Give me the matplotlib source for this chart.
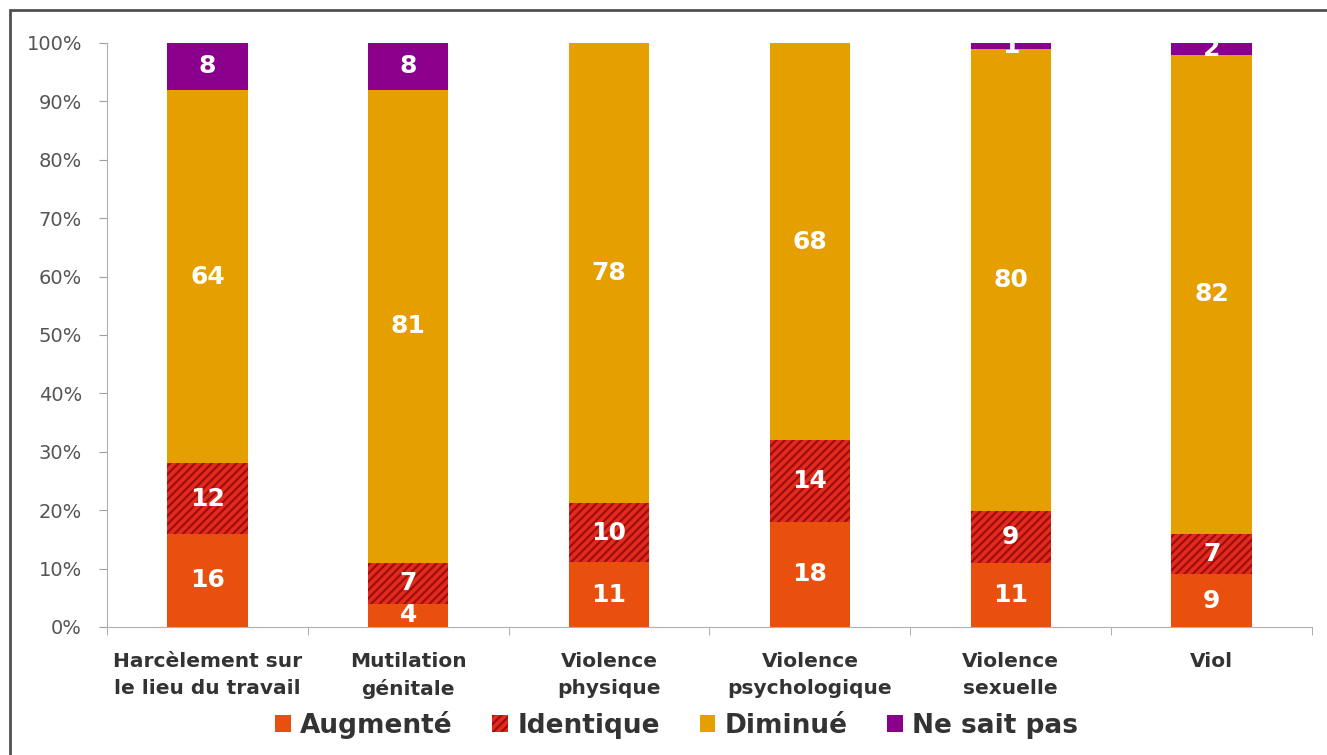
import matplotlib
matplotlib.use("Agg")
import matplotlib.pyplot as plt
import numpy as np
from matplotlib.patches import Rectangle, Patch

plt.rcParams['font.family'] = ['DejaVu Sans']
plt.rcParams['hatch.linewidth'] = 1.6

categories = ["Harcèlement sur\nle lieu du travail", "Mutilation\ngénitale", "Violence\nphysique",
              "Violence\npsychologique", "Violence\nsexuelle", "Viol"]
series_names = ["Augmenté", "Identique", "Diminué", "Ne sait pas"]
augmente = [16, 4, 11, 18, 11, 9]
identique = [12, 7, 10, 14, 9, 7]
diminue = [64, 81, 78, 68, 80, 82]
ne_sait_pas = [8, 8, 0, 0, 1, 2]
y_ticklabels = ["0%", "10%", "20%", "30%", "40%", "50%", "60%", "70%", "80%", "90%", "100%"]

colors = ["#e9500e", "#e32a1c", "#e5a000", "#8a008c"]
hatches = [None, "////", None, None]
hatch_colors = [None, "#9c0f0f", None, None]

fig = plt.figure(figsize=(13.27, 7.55), dpi=100)
ax = fig.add_axes([107/1327, 1-627/755, (1312-107)/1327, (627-43)/755])

data = np.array([augmente, identique, diminue, ne_sait_pas], dtype=float)
totals = data.sum(axis=0)
pct = data / totals * 100
x = np.arange(len(categories))
bottom = np.zeros(len(categories))
for i, name in enumerate(series_names):
    if hatches[i]:
        ax.bar(x, pct[i], 0.4, bottom=bottom, color=colors[i], edgecolor=hatch_colors[i],
               hatch=hatches[i], linewidth=0, label=name)
    else:
        ax.bar(x, pct[i], 0.4, bottom=bottom, color=colors[i], linewidth=0, label=name)
    for j in range(len(categories)):
        v = data[i, j]
        if v > 0:
            ax.text(x[j], bottom[j] + pct[i, j] / 2, f"{int(v)}", ha="center", va="center",
                    color="white", fontsize=18, fontweight="bold", zorder=5)
    bottom += pct[i]

ax.set_xlim(-0.5, len(categories) - 0.5)
ax.set_ylim(0, 100)
ax.set_yticks(np.arange(0, 101, 10))
ax.set_yticklabels(y_ticklabels, fontsize=14, color="#555555")
ax.set_xticks(x)
ax.set_xticklabels(categories, fontsize=14.5, fontweight="bold", color="#333333", linespacing=1.5)
ax.set_xticks(np.arange(-0.5, len(categories)), minor=True)
ax.tick_params(axis="x", which="major", length=0, pad=18)
ax.tick_params(axis="x", which="minor", length=6, color="#a0a0a0", direction="out")
ax.tick_params(axis="y", length=6, color="#a0a0a0", pad=12)
for s in ["top", "right"]:
    ax.spines[s].set_visible(False)
ax.spines["left"].set_color("#b0b0b0")
ax.spines["bottom"].set_color("#b0b0b0")

handles = []
for i, name in enumerate(series_names):
    handles.append(Patch(facecolor=colors[i], edgecolor=hatch_colors[i] if hatches[i] else colors[i],
                         hatch=hatches[i], linewidth=0, label=name))
leg = fig.legend(handles=handles, loc="center", bbox_to_anchor=(0.510, 1-725/755), ncol=4, frameon=False,
                 prop={"size": 19, "weight": "bold"}, handlelength=0.6, handleheight=0.6,
                 handletextpad=0.35, columnspacing=1.5)
for t in leg.get_texts():
    t.set_color("#333333")

fig.patches.append(Rectangle((10/1327, -0.1), 1.2, 1-10/755 + 0.1, transform=fig.transFigure,
                             fill=False, edgecolor="#505050", linewidth=2))

fig.savefig("out.png", dpi=100)
